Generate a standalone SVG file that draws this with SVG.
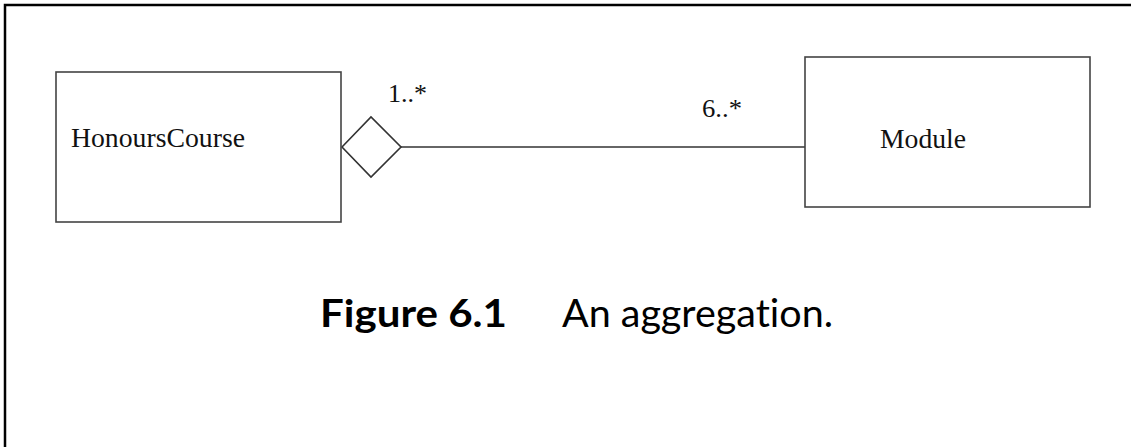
<svg xmlns="http://www.w3.org/2000/svg" width="1131" height="447" viewBox="0 0 1131 447">
<style>
.box{fill:#fff;stroke:#444;stroke-width:1.6}
.lbl{font-family:"Liberation Serif","Times New Roman",serif;fill:#111}
.conn{stroke:#333;stroke-width:1.6;fill:none}
.cap{font-family:Lato,"Open Sans",sans-serif;fill:#000;font-variant-ligatures:none}
</style>
<rect width="1131" height="447" fill="#fff"/>
<path d="M5,447 V5 H1131" fill="none" stroke="#000" stroke-width="2.5"/>
<g id="connectors">
<line class="conn" x1="401" y1="147" x2="805" y2="147"/>
<polygon class="conn" fill="#fff" points="342,147 371,117 401,147 371,177"/>
<text class="lbl" x="388" y="102" font-size="26" textLength="39" lengthAdjust="spacingAndGlyphs">1..*</text>
<text class="lbl" x="702" y="117" font-size="26" textLength="40" lengthAdjust="spacingAndGlyphs">6..*</text>
</g>
<g id="HonoursCourse">
<rect class="box" x="56" y="72" width="285" height="150"/>
<text class="lbl" x="71" y="147" font-size="27" textLength="174" lengthAdjust="spacingAndGlyphs">HonoursCourse</text>
</g>
<g id="Module">
<rect class="box" x="805" y="57" width="285" height="150"/>
<text class="lbl" x="880" y="148" font-size="28" textLength="86" lengthAdjust="spacingAndGlyphs">Module</text>
</g>
<g id="caption">
<text class="cap" x="320" y="327" font-size="38" font-weight="bold" textLength="187" lengthAdjust="spacingAndGlyphs">Figure 6.1</text>
<text class="cap" x="562" y="327" font-size="38" textLength="271" lengthAdjust="spacingAndGlyphs">An aggregation.</text>
</g>
</svg>
